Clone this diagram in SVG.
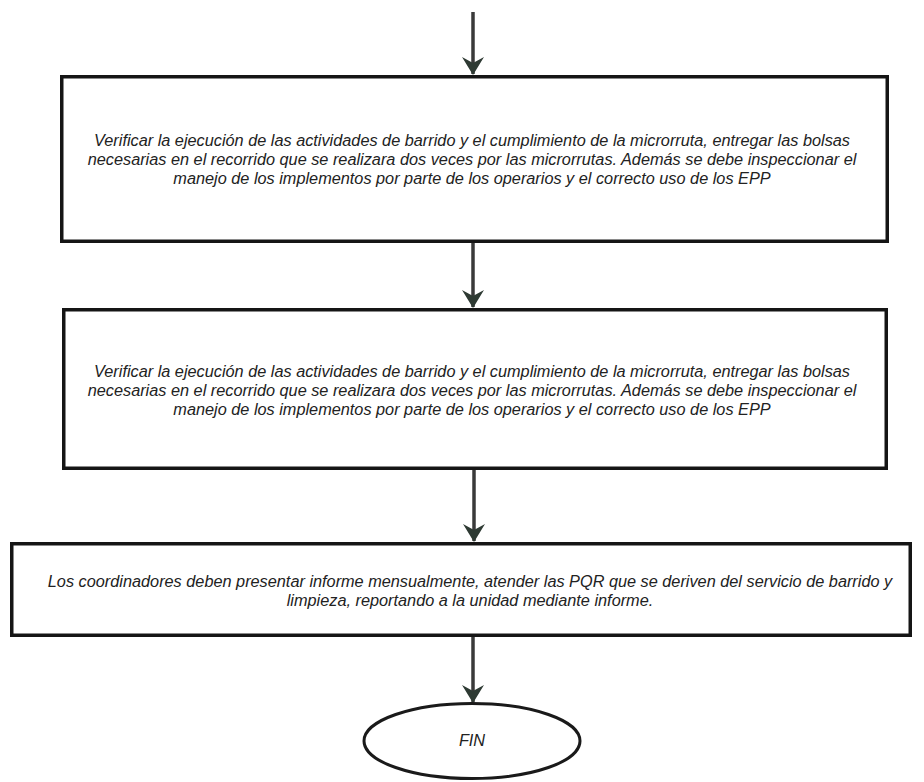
<svg xmlns="http://www.w3.org/2000/svg" width="924" height="782" viewBox="0 0 924 782">
  <style>
    .box { fill: #ffffff; stroke: #151515; stroke-width: 3.5; }
    .term { fill: #ffffff; stroke: #1a1a1a; stroke-width: 3; }
    .txt { font-family: "Liberation Sans", Arial, sans-serif; font-style: italic; font-size: 16.3px; fill: #222222; text-anchor: middle; }
    .conn { stroke: #3a3a3a; stroke-width: 3.5; fill: none; marker-end: url(#arrow); }
  </style>
  <defs>
    <marker id="arrow" markerUnits="userSpaceOnUse" markerWidth="20" markerHeight="22" refX="18" refY="11" orient="auto" viewBox="0 0 20 22">
      <path d="M1,0 L19,11 L1,22 L7,11 Z" fill="#2e3a33"/>
    </marker>
  </defs>
  <rect width="924" height="782" fill="#ffffff"/>

  <g id="connectors">
    <line class="conn" x1="473" y1="12" x2="473" y2="74"/>
    <line class="conn" x1="473" y1="243" x2="473" y2="307"/>
    <line class="conn" x1="474" y1="470" x2="474" y2="541"/>
    <line class="conn" x1="473" y1="637" x2="473" y2="702"/>
  </g>

  <g id="step1">
    <rect class="box" x="61.75" y="76.75" width="825.5" height="164.5"/>
    <text class="txt" x="472" y="146">Verificar la ejecución de las actividades de barrido y el cumplimiento de la microrruta, entregar las bolsas</text>
    <text class="txt" x="472" y="165">necesarias en el recorrido que se realizara dos veces por las microrrutas.  Además se debe inspeccionar el</text>
    <text class="txt" x="472" y="184">manejo de los implementos por parte de los operarios y el correcto uso de los EPP</text>
  </g>

  <g id="step2">
    <rect class="box" x="63.75" y="309.75" width="822.5" height="158.5"/>
    <text class="txt" x="472" y="377">Verificar la ejecución de las actividades de barrido y el cumplimiento de la microrruta, entregar las bolsas</text>
    <text class="txt" x="472" y="396">necesarias en el recorrido que se realizara dos veces por las microrrutas.  Además se debe inspeccionar el</text>
    <text class="txt" x="472" y="415">manejo de los implementos por parte de los operarios y el correcto uso de los EPP</text>
  </g>

  <g id="step3">
    <rect class="box" x="11.75" y="543.75" width="898.5" height="91.5"/>
    <text class="txt" x="470" y="587">Los coordinadores deben presentar informe mensualmente, atender las PQR que se deriven del servicio de barrido y</text>
    <text class="txt" x="470" y="606">limpieza, reportando a la unidad mediante informe.</text>
  </g>

  <g id="fin">
    <ellipse class="term" cx="472" cy="741" rx="108" ry="37.5"/>
    <text class="txt" x="472" y="746">FIN</text>
  </g>
</svg>
